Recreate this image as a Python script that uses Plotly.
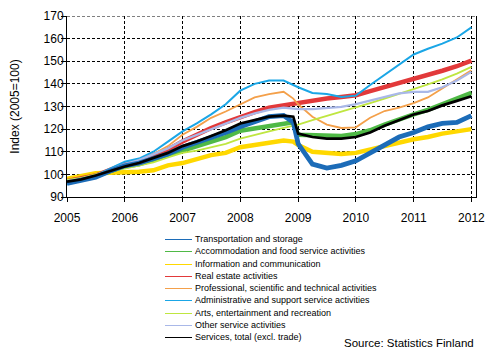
import plotly.graph_objects as go

# ---- data ----
dates = ["2005-01-01", "2005-04-01", "2005-07-01", "2005-10-01",
         "2006-01-01", "2006-04-01", "2006-07-01", "2006-10-01",
         "2007-01-01", "2007-04-01", "2007-07-01", "2007-10-01",
         "2008-01-01", "2008-04-01", "2008-07-01", "2008-10-01", "2008-12-01",
         "2009-01-01", "2009-04-01", "2009-07-01", "2009-10-01",
         "2010-01-01", "2010-04-01", "2010-07-01", "2010-10-01",
         "2011-01-01", "2011-04-01", "2011-07-01", "2011-10-01",
         "2012-01-01"]

transport = [96, 97.5, 98.8, 101.5, 103.8, 105, 107, 109, 112, 114, 116.5, 118.5,
             121, 123.5, 125.5, 126, 123, 113.5, 104.5, 102.8, 104,
             106, 109.5, 113.5, 116.5, 118.5, 121, 122.5, 123, 126]
accommodation = [96.5, 97.5, 99, 101.5, 103.5, 104.5, 106.5, 108.5, 111, 112.5, 114.5, 116.5,
                 119.3, 120.3, 121, 122, 123, 117.5, 117.3, 117, 117,
                 117.8, 119.5, 122, 124.5, 126.5, 128.5, 131, 133.5, 136]
information = [98, 99.2, 100.5, 100.7, 100.8, 101.2, 101.8, 104, 105, 107, 108.5, 109.5,
               112, 113, 114, 115, 114.5, 113, 110, 109.3, 109,
               109.5, 111, 112.5, 114, 115.5, 116.5, 118, 119, 120]
real_estate = [97, 98, 99.5, 102, 104.5, 106, 108.5, 111, 114.5, 117.5, 120.5, 123,
               125.5, 127.5, 129.5, 130.5, 131.5, 132, 132.8, 133.5, 134.2,
               135, 136.8, 138.5, 140.3, 142.3, 144, 145.8, 147.8, 150.3]
professional = [97, 98, 99.5, 102, 104.5, 106.5, 109, 112.5, 117.5, 121, 125, 127.8,
                131, 134, 135.5, 136.5, 133.5, 131, 125.5, 122, 120.5,
                120.8, 125, 128, 129.5, 131.5, 134, 138, 142, 146]
administrative = [95.8, 97, 99.5, 102.5, 105.6, 107, 110, 114.5, 119, 122.5, 126.5, 131,
                  137, 140, 141.5, 141.5, 139.5, 138.5, 136, 135.5, 134.2,
                  134.8, 139.5, 144, 148.5, 153, 155.5, 157.8, 160.5, 165]
arts = [97.5, 98.5, 100, 101.5, 102.5, 104, 105.3, 107.5, 109.5, 110.5, 112, 113.5,
        115.8, 117.5, 119, 120.5, 121.5, 122, 124, 125.8, 127.8,
        129.6, 131.5, 133.5, 135.5, 137.6, 139.8, 142, 144.5, 147.5]
other = [97, 98, 99.5, 102, 104.5, 106.3, 109, 111.5, 115, 117.5, 120, 122.5,
         125, 127, 128.5, 129.5, 129, 128.8, 128.8, 129.2, 129.8,
         131, 132.5, 134, 135.8, 136.5, 136.5, 138.5, 141.5, 145.3]
services_total = [96.8, 97.8, 99.5, 101.5, 103.5, 105, 107.4, 109.5, 112.5, 114.5, 117, 119.5,
                  122.5, 124, 125.5, 126, 125.5, 118, 116.5, 115.8, 115.8,
                  116.5, 118.5, 121.5, 124, 126.5, 128, 130.5, 132.5, 134.5]

names = ["Transportation and storage",
         "Accommodation and food service activities",
         "Information and communication",
         "Real estate activities",
         "Professional, scientific and technical activities",
         "Administrative and support service activities",
         "Arts, entertainment and recreation",
         "Other service activities",
         "Services, total (excl. trade)"]
values = [transport, accommodation, information, real_estate, professional,
          administrative, arts, other, services_total]

y_ticks = [90, 100, 110, 120, 130, 140, 150, 160, 170]
x_tick_labels = ["2005", "2006", "2007", "2008", "2009", "2010", "2011", "2012"]
source_text = "Source: Statistics Finland"
y_title = "Index (2005=100)"

# ---- styles ----
colors = ["#1c6cb8", "#4fb946", "#ffd800", "#e2393a", "#f4a04a",
          "#1aa6e6", "#bfe640", "#a9b8e8", "#000000"]
widths = [4.8, 4.5, 4.5, 4.5, 1.8, 2, 1.8, 2.3, 2.7]
draw_order = [2, 3, 1, 4, 5, 6, 7, 0, 8]

# page is 498x357; the browser body margin puts the figure at (8, 8)
OFF = 8
W, H = 498 - OFF, 357 - OFF
ML, MR, MT, MB = 67 - OFF, 22, 16 - OFF, 160
PW, PH = W - ML - MR, H - MT - MB
FONT = "Liberation Sans, Arial, sans-serif"


def px_x(p):
    # page pixel -> paper fraction
    return (p - OFF - ML) / PW


def px_y(p):
    return (H - MB - (p - OFF)) / PH


fig = go.Figure()
for i in draw_order:
    fig.add_trace(go.Scatter(x=dates, y=values[i], mode="lines", name=names[i],
                             line=dict(color=colors[i], width=widths[i]),
                             showlegend=False))

shapes = [dict(type="line", xref="paper", yref="y", x0=0, x1=1, y0=170, y1=170,
               line=dict(color="black", width=1, dash="3px,2px"))]
annotations = []
for i, nm in enumerate(names):
    row = round(239 + 12.3 * i)
    yl = px_y(row + 0.5)
    shapes.append(dict(type="line", xref="paper", yref="paper",
                       x0=px_x(165), x1=px_x(192), y0=yl, y1=yl,
                       line=dict(color=colors[i], width=1)))
    annotations.append(dict(xref="paper", yref="paper", x=px_x(193), y=px_y(row),
                            xanchor="left", yanchor="middle", showarrow=False,
                            text=nm, font=dict(size=9, color="black", family=FONT)))
annotations.append(dict(xref="paper", yref="paper", x=px_x(476), y=px_y(342.5),
                        xanchor="right", yanchor="middle", showarrow=False,
                        text=source_text, font=dict(size=11.5, color="black", family=FONT)))

fig.update_layout(
    width=W, height=H,
    margin=dict(l=ML, r=MR, t=MT, b=MB, pad=0),
    paper_bgcolor="white", plot_bgcolor="white",
    font=dict(family=FONT, size=12, color="black"),
    shapes=shapes, annotations=annotations,
    xaxis=dict(type="date", range=["2005-01-01", "2012-01-30"], automargin=False,
               tickvals=[s + "-01-01" for s in x_tick_labels], ticktext=x_tick_labels,
               showgrid=True, gridcolor="black", gridwidth=1, griddash="3px,2px",
               showline=True, linecolor="black", linewidth=1,
               ticks="outside", ticklen=4, tickcolor="black", tickwidth=1,
               tickfont=dict(size=12), ticklabelstandoff=6, zeroline=False),
    yaxis=dict(range=[90, 170], tickvals=y_ticks, automargin=False,
               showgrid=True, gridcolor="black", gridwidth=1, griddash="3px,2px",
               showline=True, mirror=True, linecolor="black", linewidth=1,
               ticks="outside", ticklen=5, tickcolor="black", tickwidth=1,
               tickfont=dict(size=12), ticklabelstandoff=-5, zeroline=False,
               title=dict(text=y_title, font=dict(size=12), standoff=22)),
)

fig.write_html("out.html")
